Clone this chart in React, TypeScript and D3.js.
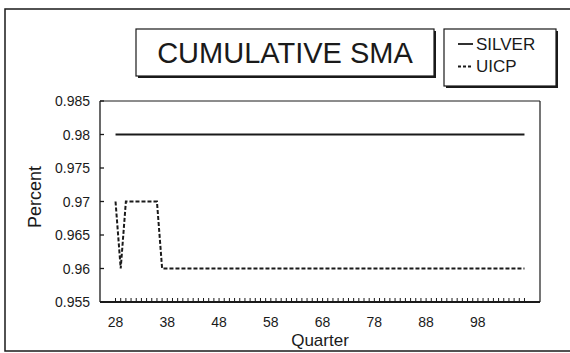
import React from "react";
import * as d3 from "d3";

const quarters: number[] = d3.range(28, 108);
const xTickLabels: number[] = [28, 38, 48, 58, 68, 78, 88, 98];
const yTickValues: number[] = [0.955, 0.96, 0.965, 0.97, 0.975, 0.98, 0.985];
const yTickLabels: string[] = ["0.955", "0.96", "0.965", "0.97", "0.975", "0.98", "0.985"];

const silver: number[] = [
  0.98, 0.98, 0.98, 0.98, 0.98, 0.98, 0.98, 0.98, 0.98, 0.98,
  0.98, 0.98, 0.98, 0.98, 0.98, 0.98, 0.98, 0.98, 0.98, 0.98,
  0.98, 0.98, 0.98, 0.98, 0.98, 0.98, 0.98, 0.98, 0.98, 0.98,
  0.98, 0.98, 0.98, 0.98, 0.98, 0.98, 0.98, 0.98, 0.98, 0.98,
  0.98, 0.98, 0.98, 0.98, 0.98, 0.98, 0.98, 0.98, 0.98, 0.98,
  0.98, 0.98, 0.98, 0.98, 0.98, 0.98, 0.98, 0.98, 0.98, 0.98,
  0.98, 0.98, 0.98, 0.98, 0.98, 0.98, 0.98, 0.98, 0.98, 0.98,
  0.98, 0.98, 0.98, 0.98, 0.98, 0.98, 0.98, 0.98, 0.98, 0.98,
];

const uicp: number[] = [
  0.97, 0.96, 0.97, 0.97, 0.97, 0.97, 0.97, 0.97, 0.97, 0.96,
  0.96, 0.96, 0.96, 0.96, 0.96, 0.96, 0.96, 0.96, 0.96, 0.96,
  0.96, 0.96, 0.96, 0.96, 0.96, 0.96, 0.96, 0.96, 0.96, 0.96,
  0.96, 0.96, 0.96, 0.96, 0.96, 0.96, 0.96, 0.96, 0.96, 0.96,
  0.96, 0.96, 0.96, 0.96, 0.96, 0.96, 0.96, 0.96, 0.96, 0.96,
  0.96, 0.96, 0.96, 0.96, 0.96, 0.96, 0.96, 0.96, 0.96, 0.96,
  0.96, 0.96, 0.96, 0.96, 0.96, 0.96, 0.96, 0.96, 0.96, 0.96,
  0.96, 0.96, 0.96, 0.96, 0.96, 0.96, 0.96, 0.96, 0.96, 0.96,
];

const FONT = "'Liberation Sans', Arial, Helvetica, sans-serif";
const INK = "#1a1a1a";

export default function App() {
  const left = 100, right = 540, top = 101, bottom = 302;
  const x = d3.scaleLinear().domain([25, 110]).range([left, right]);
  const y = d3.scaleLinear().domain([0.955, 0.985]).range([bottom, top]);

  const line = d3
    .line<number>()
    .x((_, i) => x(quarters[i]))
    .y((d) => y(d));

  return (
    <svg
      width={570}
      height={353}
      style={{ position: "absolute", left: 0, top: 0, background: "#fff" }}
      fontFamily={FONT}
    >
      {/* outer frame */}
      <rect x={5} y={9} width={570} height={342} fill="none" stroke={INK} strokeWidth={1.5} />

      {/* title box with shadow */}
      <rect x={138} y={31} width={298} height={47} fill={INK} />
      <rect x={136} y={29} width={298} height={47} fill="#fff" stroke={INK} strokeWidth={1.2} />
      <text x={285} y={63} textAnchor="middle" fontSize={29} fill={INK}>
        CUMULATIVE SMA
      </text>

      {/* legend box with shadow */}
      <rect x={446} y={31} width={112} height={57} fill={INK} />
      <rect x={444} y={29} width={112} height={57} fill="#fff" stroke={INK} strokeWidth={1.2} />
      <line x1={458} x2={473} y1={44} y2={44} stroke={INK} strokeWidth={1.8} />
      <text x={476} y={50} fontSize={17} fill={INK}>SILVER</text>
      <line x1={458} x2={473} y1={66.5} y2={66.5} stroke={INK} strokeWidth={1.8} strokeDasharray="3,2" />
      <text x={476} y={72} fontSize={17} fill={INK}>UICP</text>

      {/* plot frame */}
      <line x1={left} x2={right} y1={top} y2={top} stroke={INK} strokeWidth={1} />
      <line x1={right} x2={right} y1={top} y2={bottom} stroke={INK} strokeWidth={1.2} />
      <line x1={left} x2={left} y1={top} y2={bottom} stroke={INK} strokeWidth={1.3} />
      <line x1={left} x2={right} y1={bottom} y2={bottom} stroke={INK} strokeWidth={2} />

      {/* y ticks */}
      {yTickValues.map((v, i) => (
        <g key={"y" + i}>
          <line x1={left} x2={left + 4} y1={y(v)} y2={y(v)} stroke={INK} strokeWidth={1.3} />
          <text x={90} y={y(v) + 5} textAnchor="end" fontSize={14} fill={INK}>
            {yTickLabels[i]}
          </text>
        </g>
      ))}

      {/* x minor ticks */}
      {quarters.map((q) => (
        <line key={"xt" + q} x1={x(q)} x2={x(q)} y1={bottom} y2={bottom - 4} stroke={INK} strokeWidth={1} />
      ))}
      {xTickLabels.map((q) => (
        <text key={"xl" + q} x={x(q)} y={327} textAnchor="middle" fontSize={14} fill={INK}>
          {q}
        </text>
      ))}

      {/* axis titles */}
      <text x={320} y={346} textAnchor="middle" fontSize={17} fill={INK}>Quarter</text>
      <text
        transform={`translate(41,197) rotate(-90)`}
        textAnchor="middle"
        fontSize={18}
        fill={INK}
      >
        Percent
      </text>

      {/* series */}
      <path d={line(silver) || ""} fill="none" stroke={INK} strokeWidth={2} />
      <path d={line(uicp) || ""} fill="none" stroke={INK} strokeWidth={2} strokeDasharray="4,2" />
    </svg>
  );
}
